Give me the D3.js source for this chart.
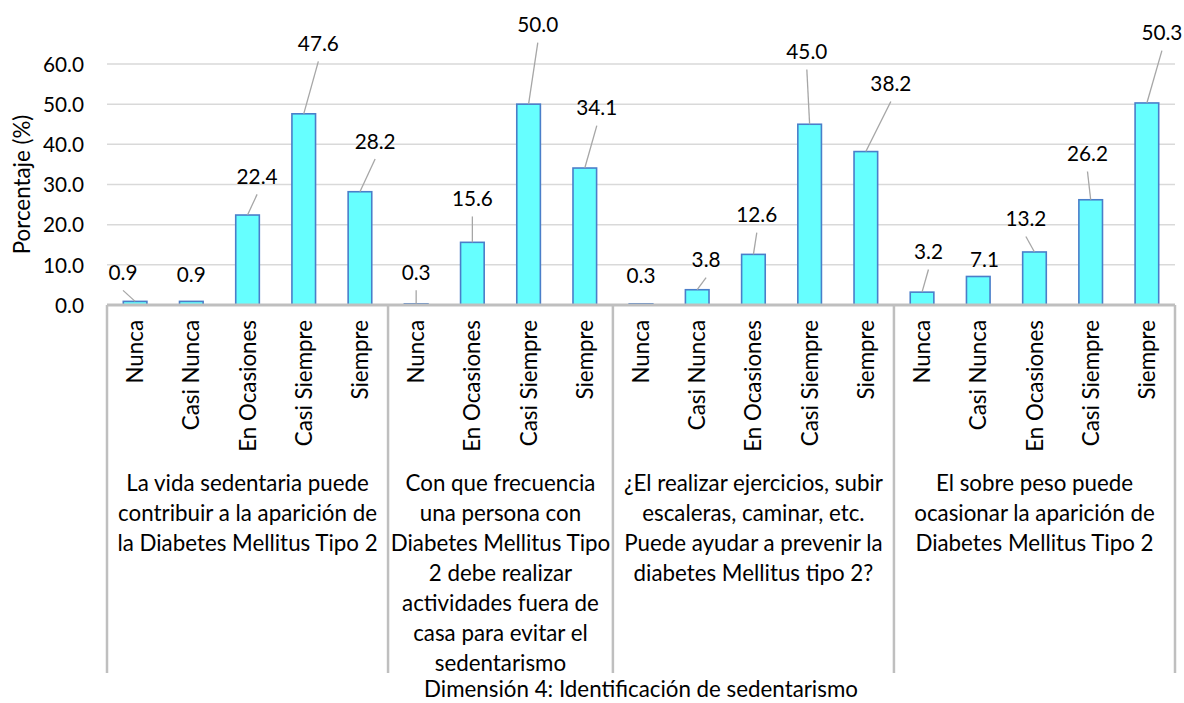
<!DOCTYPE html>
<html><head><meta charset="utf-8">
<script src="https://cdn.jsdelivr.net/npm/d3@7"></script>
<style>
body{margin:0;background:#fff}
svg text{font-family:Lato,"Open Sans",sans-serif;fill:#000}
</style>
</head><body>
<svg id="chart" width="1184" height="703"></svg>
<script>
// ---------- data ----------
const groupLabels = [
  ["La vida sedentaria puede","contribuir a la aparición de","la Diabetes Mellitus Tipo 2"],
  ["Con que frecuencia","una persona con","Diabetes Mellitus Tipo","2 debe realizar","actividades fuera de","casa para evitar el","sedentarismo"],
  ["¿El realizar ejercicios, subir","escaleras, caminar, etc.","Puede ayudar a prevenir la","diabetes Mellitus tipo 2?"],
  ["El sobre peso puede","ocasionar la aparición de","Diabetes Mellitus Tipo 2"]
];
const group1Cats = ["Nunca","Casi Nunca","En Ocasiones","Casi Siempre","Siempre"];
const group2Cats = ["Nunca","En Ocasiones","Casi Siempre","Siempre"];
const group3Cats = ["Nunca","Casi Nunca","En Ocasiones","Casi Siempre","Siempre"];
const group4Cats = ["Nunca","Casi Nunca","En Ocasiones","Casi Siempre","Siempre"];
const group1Values = [0.9,0.9,22.4,47.6,28.2];
const group2Values = [0.3,15.6,50.0,34.1];
const group3Values = [0.3,3.8,12.6,45.0,38.2];
const group4Values = [3.2,7.1,13.2,26.2,50.3];
// label placement (value-space height of label centre, shift in category steps)
const labelHeights = [8.0,7.5,31.9,65.0,40.7, 8.0,26.4,69.7,49.0, 7.2,11.2,22.4,63.0,55.0, 13.2,11.2,21.4,37.6,67.7];
const labelShifts  = [-0.215,0,0.17,0.26,0.27, 0,0,0.164,0.214, 0,0.158,0.06,-0.05,0.445, 0.114,0.11,-0.153,-0.057,0.267];
const leaderShown  = [1,0,1,1,1, 1,1,1,1, 0,1,1,1,1, 1,0,1,1,1];
const yTicks = [0,10,20,30,40,50,60];
const yTitle = "Porcentaje (%)";
const xTitle = "Dimensión 4: Identificación de sedentarismo";

// ---------- build rows ----------
const groupCats = [group1Cats,group2Cats,group3Cats,group4Cats];
const groupVals = [group1Values,group2Values,group3Values,group4Values];
const rows = [];
groupCats.forEach((cats,g)=>cats.forEach((c,i)=>{
  const k = rows.length;
  rows.push({key:g+"-"+i, g, cat:c, value:groupVals[g][i],
    lh:labelHeights[k], ls:labelShifts[k], leader:leaderShown[k]});
}));

const svg = d3.select("#chart");
const W = 1184, H = 703;
const margin = {left:107, right:9, top:64};
const plotBottom = 305;
const axisBoxBottom = 673;

// font fitting to match reference text widths
function measure(str, size){
  const t = svg.append("text").attr("font-size", size).text(str);
  const w = t.node().getComputedTextLength(); t.remove(); return w;
}
const fsText = 24 * 259 / measure("contribuir a la aparición de", 24);
const fsNum = 24 * 41 / measure("60.0", 24);

const x = d3.scaleBand().domain(rows.map(d=>d.key))
  .range([margin.left, W - margin.right]).paddingInner(0.58).paddingOuter(0.29);
const y = d3.scaleLinear().domain([0,60]).range([plotBottom, margin.top]);
const cx = d => x(d.key) + x.bandwidth()/2;
const step = x.step();

// gridlines
svg.append("g").selectAll("line").data(yTicks.filter(t=>t>0)).join("line")
  .attr("x1", margin.left).attr("x2", W - margin.right)
  .attr("y1", d=>y(d)).attr("y2", d=>y(d))
  .attr("stroke", "#D9D9D9").attr("stroke-width", 1.5);

// y axis labels
const yAxis = svg.append("g").attr("transform", `translate(${margin.left - 23},0)`)
  .call(d3.axisLeft(y).tickValues(yTicks).tickFormat(d3.format(".1f")).tickSize(0).tickPadding(0));
yAxis.select(".domain").remove();
yAxis.selectAll("text").attr("font-size", fsNum).attr("font-family","Lato").attr("fill","#000").attr("dy","0.35em");

// y title
svg.append("text").attr("transform", `translate(22,${(y(60)+y(0))/2}) rotate(-90)`)
  .attr("text-anchor","middle").attr("dy","0.35em").attr("font-size", fsText).text(yTitle);

// bars
svg.append("g").selectAll("rect").data(rows).join("rect")
  .attr("x", d=>x(d.key)).attr("width", x.bandwidth())
  .attr("y", d=>y(d.value)).attr("height", d=>y(0)-y(d.value))
  .attr("fill", "#66FFFF").attr("stroke", "#4A7EC9").attr("stroke-width", 1.6);

// axis line + group separators
svg.append("line").attr("x1", margin.left).attr("x2", W - margin.right)
  .attr("y1", y(0)).attr("y2", y(0)).attr("stroke","#BFBFBF").attr("stroke-width",3);
const bounds = [];
groupCats.forEach((cats,g)=>{
  const first = rows.find(r=>r.g===g), last = rows.filter(r=>r.g===g).pop();
  bounds.push({g, left: cx(first) - step/2, right: cx(last) + step/2});
});
const sepX = [bounds[0].left, ...bounds.map(b=>b.right)];
svg.append("g").selectAll("line").data(sepX).join("line")
  .attr("x1", d=>d).attr("x2", d=>d).attr("y1", y(0)).attr("y2", axisBoxBottom)
  .attr("stroke","#BFBFBF").attr("stroke-width",2.5);

// leader lines
svg.append("g").selectAll("line").data(rows.filter(d=>d.leader)).join("line")
  .attr("x1", d=>cx(d) + d.ls*step).attr("y1", d=>y(d.lh) + 17.5)
  .attr("x2", d=>cx(d)).attr("y2", d=>y(d.value))
  .attr("stroke","#A6A6A6").attr("stroke-width",1.3);

// data labels
svg.append("g").selectAll("text").data(rows).join("text")
  .attr("x", d=>cx(d) + d.ls*step).attr("y", d=>y(d.lh))
  .attr("text-anchor","middle").attr("dy","0.35em").attr("font-size", fsNum)
  .text(d=>d3.format(".1f")(d.value));

// category labels (rotated)
svg.append("g").selectAll("text").data(rows).join("text")
  .attr("transform", d=>`translate(${cx(d)},320) rotate(-90)`)
  .attr("text-anchor","end").attr("dy","0.36em").attr("font-size", fsText)
  .text(d=>d.cat);

// group labels
bounds.forEach(b=>{
  const t = svg.append("text").attr("text-anchor","middle").attr("font-size", fsText);
  groupLabels[b.g].forEach((line,i)=>{
    t.append("tspan").attr("x",(b.left+b.right)/2).attr("y", 483 + i*30).attr("dy","0.35em").text(line);
  });
});

// x title
svg.append("text").attr("x", (margin.left + W - margin.right)/2).attr("y", 689)
  .attr("text-anchor","middle").attr("dy","0.35em").attr("font-size", fsText).text(xTitle);
</script>
</body></html>
